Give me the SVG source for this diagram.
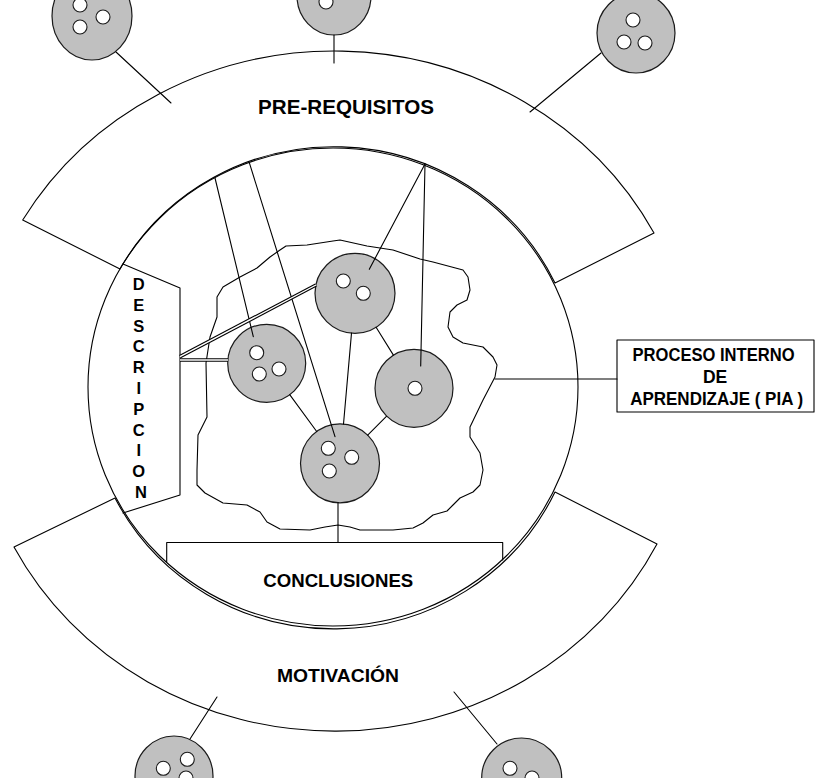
<svg xmlns="http://www.w3.org/2000/svg" width="815" height="778" viewBox="0 0 815 778">
  <style>
    .ln { fill: none; stroke: #000; stroke-width: 1.1; stroke-linejoin: round; stroke-linecap: round; }
    .band { fill: #fff; stroke: #000; stroke-width: 1.1; stroke-linejoin: round; }
    .node { fill: #c0c0c0; stroke: #1a1a1a; stroke-width: 1.2; }
    .hole { fill: #fff; stroke: #1a1a1a; stroke-width: 1.1; }
    .dbl-o { fill: none; stroke: #000; stroke-width: 3.6; }
    .dbl-i { fill: none; stroke: #fff; stroke-width: 1.4; }
    .lbl { font-family: "Liberation Sans", Arial, sans-serif; font-weight: bold; fill: #000; }
  </style>
  <rect x="0" y="0" width="815" height="778" fill="#fff"/>

  <!-- outer ring bands -->
  <g id="prerequisitos">
    <path class="band" d="M22.7,220 A361,340.5 0 0 1 654,233 L555,283 A245,239 0 0 0 120,269 Z"/>
    <text class="lbl" x="258" y="113.5" font-size="20.5" textLength="176" lengthAdjust="spacingAndGlyphs">PRE-REQUISITOS</text>
  </g>
  <g id="motivacion">
    <path class="band" d="M14,547 A361,340.5 0 0 0 657,544 L555,492 A245,239 0 0 1 115,498 Z"/>
    <text class="lbl" x="277" y="681.5" font-size="17.5" textLength="122" lengthAdjust="spacingAndGlyphs">MOTIVACIÓN</text>
  </g>

  <!-- inner circle -->
  <ellipse id="inner-circle" class="ln" cx="333" cy="387" rx="245" ry="239"/>

  <!-- internal learning region -->
  <path id="pia-region" class="ln" d="M286,246 L307,245 L333,241 L340,240 L367,246 L393,250 L420,259 L433,262 L463,270 L468,277 L470,290 L467,300 L457,305 L450,312 L448,327 L453,337 L463,343 L483,347 L493,357 L497,365 L495,377 L483,400 L470,427 L470,437 L480,453 L483,470 L480,485 L473,492 L460,498 L453,505 L447,511 L433,515 L423,523 L413,528 L393,530 L360,530 L350,527 L338,525 L325,527 L310,530 L280,529 L267,522 L260,512 L247,505 L223,503 L205,493 L197,485 L197,470 L198,435 L207,417 L206,363 L210,337 L217,317 L217,297 L223,287 L240,277 L257,268 L270,257 L280,250 Z"/>

  <!-- side panels -->
  <g id="descripcion">
    <path class="ln" d="M123,264 L180,288 L180,495 L123,513"/>
    <text class="lbl" font-size="16.5" text-anchor="middle">
      <tspan x="141" y="290">D</tspan>
      <tspan x="141" y="310.8">E</tspan>
      <tspan x="141" y="331.6">S</tspan>
      <tspan x="141" y="352.4">C</tspan>
      <tspan x="141" y="373.2">R</tspan>
      <tspan x="141" y="394">I</tspan>
      <tspan x="141" y="414.8">P</tspan>
      <tspan x="141" y="435.6">C</tspan>
      <tspan x="141" y="456.4">I</tspan>
      <tspan x="141" y="477.2">O</tspan>
      <tspan x="141" y="498">N</tspan>
    </text>
  </g>
  <g id="conclusiones">
    <path class="ln" d="M166.7,561.5 L166.7,542.5 L502.7,542.5 L502.7,560"/>
    <text class="lbl" x="263.3" y="587.3" font-size="18.5" textLength="150" lengthAdjust="spacingAndGlyphs">CONCLUSIONES</text>
  </g>
  <g id="pia-box">
    <rect class="ln" x="617" y="340" width="197" height="72"/>
    <text class="lbl" font-size="17.5" text-anchor="middle">
      <tspan x="716" y="361" textLength="162" lengthAdjust="spacingAndGlyphs">PROCESO INTERNO</tspan>
      <tspan x="717.5" y="383">DE</tspan>
      <tspan x="716.7" y="405" textLength="173" lengthAdjust="spacingAndGlyphs">APRENDIZAJE  ( PIA )</tspan>
    </text>
  </g>

  <!-- nodes -->
  <g id="node-a">
    <circle class="node" cx="266.7" cy="363.3" r="39"/>
    <circle class="hole" cx="256.7" cy="352.7" r="7"/>
    <circle class="hole" cx="259.3" cy="374" r="7"/>
    <circle class="hole" cx="279" cy="369" r="7"/>
  </g>
  <g id="node-b">
    <circle class="node" cx="355" cy="293.3" r="40"/>
    <circle class="hole" cx="343.3" cy="281" r="7"/>
    <circle class="hole" cx="363.3" cy="293.3" r="7"/>
  </g>
  <g id="node-c">
    <circle class="node" cx="414" cy="388.3" r="39"/>
    <circle class="hole" cx="415" cy="388.3" r="7"/>
  </g>
  <g id="node-d">
    <circle class="node" cx="340" cy="463.3" r="39.5"/>
    <circle class="hole" cx="328.3" cy="448.3" r="7"/>
    <circle class="hole" cx="351.7" cy="457.3" r="7"/>
    <circle class="hole" cx="329.3" cy="471" r="7"/>
  </g>

  <g id="top-left">
    <ellipse class="node" cx="92" cy="16" rx="40" ry="44"/>
    <circle class="hole" cx="80" cy="5" r="7"/>
    <circle class="hole" cx="80" cy="27" r="7"/>
    <circle class="hole" cx="103" cy="17" r="7"/>
  </g>
  <g id="top-center">
    <ellipse class="node" cx="334" cy="-4" rx="37" ry="39"/>
    <circle class="hole" cx="326" cy="2" r="7"/>
  </g>
  <g id="top-right">
    <ellipse class="node" cx="636" cy="33" rx="39" ry="40"/>
    <circle class="hole" cx="633" cy="20" r="7"/>
    <circle class="hole" cx="624" cy="42" r="7"/>
    <circle class="hole" cx="645" cy="43" r="7"/>
  </g>
  <g id="bottom-left">
    <ellipse class="node" cx="174" cy="776" rx="39" ry="40"/>
    <circle class="hole" cx="163.3" cy="768.3" r="7"/>
    <circle class="hole" cx="187.3" cy="759.3" r="7"/>
    <circle class="hole" cx="186" cy="778" r="7"/>
  </g>
  <g id="bottom-right">
    <ellipse class="node" cx="521.7" cy="778" rx="40" ry="40"/>
    <circle class="hole" cx="510" cy="768.3" r="7"/>
    <circle class="hole" cx="532" cy="778" r="7"/>
  </g>

  <!-- connectors -->
  <g id="connectors">
    <line class="ln" x1="116" y1="52" x2="171" y2="103"/>
    <line class="ln" x1="334" y1="35" x2="334" y2="63"/>
    <line class="ln" x1="601" y1="53" x2="530" y2="112"/>
    <line class="ln" x1="190" y1="739" x2="217" y2="697"/>
    <line class="ln" x1="497" y1="744" x2="454" y2="692"/>

    <line class="ln" x1="215" y1="178" x2="253.3" y2="336.7"/>
    <line class="ln" x1="249.3" y1="162.7" x2="335" y2="436.7"/>
    <line class="ln" x1="425" y1="164" x2="369.3" y2="269.3"/>
    <line class="ln" x1="425" y1="164" x2="420.7" y2="366"/>

    <line class="ln" x1="289.7" y1="394.7" x2="316.7" y2="431.5"/>
    <line class="ln" x1="351.5" y1="333.1" x2="343.5" y2="424"/>
    <line class="ln" x1="376.1" y1="327.3" x2="393.4" y2="355.1"/>
    <line class="ln" x1="386.4" y1="416.3" x2="367.7" y2="435.2"/>

    <line class="ln" x1="338" y1="502.8" x2="338" y2="542.5"/>
    <line class="ln" x1="495" y1="379" x2="617" y2="379"/>

    <path class="dbl-o" d="M180,356.7 L316,285"/>
    <path class="dbl-i" d="M180,356.7 L316,285"/>
    <path class="dbl-o" d="M180,360 L228,360"/>
    <path class="dbl-i" d="M180,360 L228,360"/>
  </g>
</svg>
